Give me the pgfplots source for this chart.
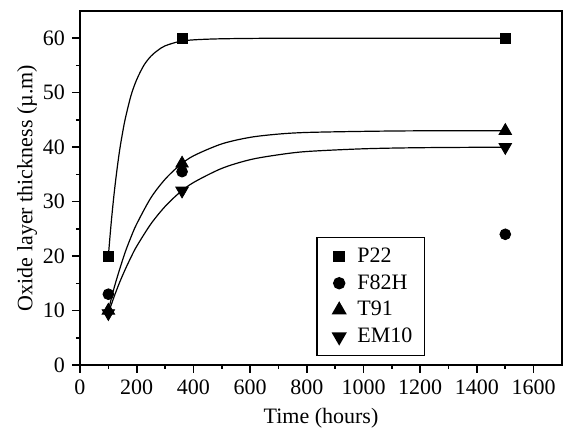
\documentclass[border=0pt]{standalone}
\usepackage{fontspec}
\setmainfont{Liberation Serif}
\usepackage{pgfplots}
\pgfplotsset{compat=1.18}
\usetikzlibrary{calc}

\begin{document}
\begin{tikzpicture}
\begin{axis}[name=ax,
    width=241pt, height=177pt, scale only axis,
    xmin=0, xmax=1700, ymin=0, ymax=65,
    xtick={0,200,...,1600}, ytick={0,10,...,60},
    minor x tick num=1, minor y tick num=1,
    tick pos=left, tick align=outside,
    major tick length=4pt, minor tick length=2pt,
    every tick/.style={black, line width=0.8pt},
    axis line style={line width=1pt},
    /pgf/number format/assume math mode=true,
    /pgf/number format/1000 sep={},
    ticklabel style={font=\fontsize{11}{13}\selectfont},
    label style={font=\fontsize{11}{13}\selectfont},
    xlabel={Time (hours)},
    ylabel={Oxide layer thickness (µ.m)},
    ylabel style={yshift=-4pt},
    legend style={at={(0.49,0.362)}, anchor=north west,
        draw=black, line width=0.8pt, font=\fontsize{11}{13}\selectfont,
        row sep=0.6pt, inner xsep=4pt, inner ysep=3pt},
    legend cell align=left,
    legend image code/.code={\path[draw=none,fill=none] (0cm,0cm) -- (0.5cm,0cm);
        \draw plot coordinates {(0.25cm,0cm)};},
]
% fitted curves
\addplot[black, line width=0.6pt, smooth, forget plot] coordinates {
 (100,20) (110,26.1) (120,31.3) (130,35.7) (140,39.5) (150,42.6) (160,45.3)
 (180,49.5) (200,52.4) (225,55.0) (250,56.7) (275,57.8) (300,58.6)
 (350,59.4) (400,59.7) (500,59.9) (700,60) (1000,60) (1500,60)};
\addplot[black, line width=0.6pt, smooth, forget plot] coordinates {
 (100,10) (120,14.1) (140,17.6) (160,20.8) (180,23.5) (200,25.9) (250,30.7)
 (300,34.1) (350,36.6) (400,38.4) (500,40.6) (600,41.8) (700,42.4)
 (800,42.7) (1000,42.9) (1200,43.0) (1500,43.0)};
\addplot[black, line width=0.6pt, smooth, forget plot] coordinates {
 (100,9.5) (120,12.5) (140,15.2) (160,17.6) (180,19.8) (200,21.8) (250,25.9)
 (300,29.1) (350,31.6) (400,33.5) (500,36.1) (600,37.7) (700,38.6)
 (800,39.2) (1000,39.7) (1200,39.9) (1500,40.0)};
% measured points
\addplot[only marks, mark=square*, mark size=2.5pt, black] coordinates {
 (100,20) (360,60) (1500,60)};
\addplot[only marks, mark=*, mark size=2.7pt, black] coordinates {
 (100,13) (360,35.5) (1500,24)};
\addplot[only marks, mark=triangle*, mark size=3.6pt, black] coordinates {
 (100,10) (360,37) (1500,43)};
\addplot[only marks, mark=triangle*, mark size=3.6pt, mark options={rotate=180}, black] coordinates {
 (100,9.5) (360,32) (1500,40)};
\legend{P22, F82H, T91, EM10}
\end{axis}
\pgfresetboundingbox
\path[use as bounding box] ($(ax.south west)+(-40pt,-33pt)$) rectangle ($(ax.north east)+(0.5pt,5.5pt)$);
\end{tikzpicture}
\end{document}
